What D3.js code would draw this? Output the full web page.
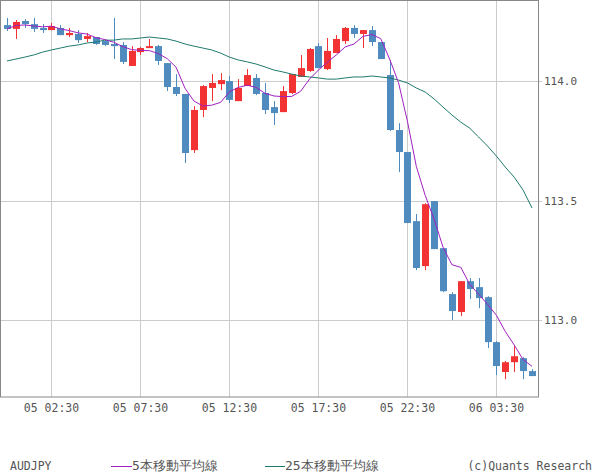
<!DOCTYPE html>
<html><head><meta charset="utf-8">
<script src="https://cdn.jsdelivr.net/npm/d3@7"></script>
<style>body{margin:0;background:#fff}svg{display:block}</style>
</head><body><svg id="chart" width="600" height="475"></svg>
<script>
const opens = [114.234,114.218,114.251,114.238,114.222,114.213,114.222,114.192,114.197,114.176,114.184,114.167,114.155,114.151,114.063,114.121,114.138,114.146,114.075,113.975,113.946,113.711,113.879,113.971,113.987,114.000,113.916,113.979,114.013,113.950,113.891,113.870,113.950,114.017,114.042,114.146,114.050,114.117,114.167,114.222,114.197,114.213,114.163,114.025,113.795,113.703,113.414,113.226,113.498,113.301,113.109,113.034,113.163,113.138,113.096,112.908,112.783,112.824,112.841,112.787];
const highs = [114.264,114.255,114.259,114.264,114.238,114.243,114.234,114.222,114.213,114.201,114.184,114.171,114.264,114.163,114.146,114.142,114.176,114.151,114.075,114.029,113.946,113.895,113.983,114.029,114.033,114.021,114.008,114.050,114.029,113.992,113.916,113.979,114.029,114.109,114.138,114.159,114.180,114.192,114.226,114.234,114.213,114.230,114.163,114.088,113.824,113.703,113.444,113.489,113.498,113.301,113.117,113.163,113.176,113.176,113.100,112.912,112.829,112.891,112.845,112.795];
const lows = [114.209,114.176,114.222,114.205,114.201,114.213,114.192,114.184,114.159,114.163,114.151,114.146,114.092,114.071,114.063,114.109,114.138,114.067,113.958,113.937,113.657,113.699,113.849,113.916,113.962,113.908,113.916,113.979,113.941,113.862,113.816,113.870,113.946,114.017,114.038,114.054,114.046,114.117,114.155,114.180,114.138,114.146,114.092,113.791,113.619,113.406,113.209,113.209,113.297,113.117,113.000,113.017,113.088,113.050,112.883,112.770,112.753,112.783,112.753,112.766];
const closes = [114.218,114.247,114.238,114.218,114.213,114.230,114.192,114.201,114.171,114.188,114.155,114.151,114.146,114.080,114.126,114.138,114.146,114.084,113.975,113.946,113.699,113.879,113.979,113.992,114.004,113.921,113.971,114.025,113.946,113.879,113.866,113.958,114.029,114.054,114.134,114.054,114.126,114.176,114.222,114.197,114.213,114.163,114.092,113.795,113.703,113.406,113.218,113.485,113.297,113.121,113.038,113.163,113.130,113.092,112.908,112.808,112.824,112.849,112.787,112.766];
const ma25 = [114.084,114.092,114.100,114.109,114.121,114.130,114.138,114.146,114.151,114.159,114.163,114.171,114.171,114.176,114.176,114.180,114.184,114.180,114.176,114.167,114.155,114.146,114.138,114.130,114.117,114.100,114.088,114.080,114.071,114.059,114.046,114.038,114.029,114.021,114.017,114.013,114.008,114.008,114.013,114.017,114.017,114.021,114.017,114.013,114.004,113.992,113.971,113.954,113.925,113.891,113.858,113.828,113.803,113.766,113.728,113.686,113.640,113.598,113.544,113.469];
const tickIdx = [5,15,25,35,45,55];
const tickLabels = ["05 02:30","05 07:30","05 12:30","05 17:30","05 22:30","06 03:30"];
const priceTicks = [113.0,113.5,114.0];

// 5-bar moving average from closes (shorter window at the start)
const ma5 = closes.map((c, i) => d3.mean(closes.slice(Math.max(0, i - 4), i + 1)));

const svg = d3.select("#chart");
const W = 538, H = 397;
const font = "'DejaVu Sans Mono', monospace";
const x = d3.scaleLinear().domain([0, 59]).range([7, 532]);
const y = d3.scaleLinear().domain([112.6785, 114.3389]).range([H, 0]);

// grid
svg.append("g").selectAll("line").data(tickIdx).join("line")
  .attr("x1", d => Math.round(x(d)) + 0.5).attr("x2", d => Math.round(x(d)) + 0.5)
  .attr("y1", 0).attr("y2", H).attr("stroke", "#ccc");
svg.append("g").selectAll("line").data(priceTicks).join("line")
  .attr("x1", 0).attr("x2", W + 4).attr("y1", d => Math.round(y(d)) + 0.5).attr("y2", d => Math.round(y(d)) + 0.5)
  .attr("stroke", "#ccc");

// candles
const idx = d3.range(closes.length);
const g = svg.append("g");
g.selectAll("line").data(idx).join("line")
  .attr("x1", i => Math.round(x(i)) + 0.5).attr("x2", i => Math.round(x(i)) + 0.5)
  .attr("y1", i => y(highs[i])).attr("y2", i => y(lows[i]))
  .attr("stroke", i => closes[i] >= opens[i] ? "#f33333" : "#4f8bbf");
g.selectAll("rect").data(idx).join("rect")
  .attr("x", i => Math.round(x(i)) - 3).attr("width", 7)
  .attr("y", i => y(Math.max(opens[i], closes[i])))
  .attr("height", i => Math.max(2, Math.abs(y(opens[i]) - y(closes[i]))))
  .attr("fill", i => closes[i] >= opens[i] ? "#f33333" : "#4f8bbf");

const line = d3.line().x((d, i) => x(i)).y(d => y(d));
svg.append("path").datum(ma25).attr("d", line).attr("fill", "none").attr("stroke", "#1f7a6e").attr("stroke-width", 1);
svg.append("path").datum(ma5).attr("d", line).attr("fill", "none").attr("stroke", "#a020c0").attr("stroke-width", 1);

// frame
svg.append("rect").attr("x", 0.5).attr("y", 0.5).attr("width", W).attr("height", H - 0.5)
  .attr("fill", "none").attr("stroke", "#888");

// axis labels
svg.append("g").selectAll("text").data(priceTicks).join("text")
  .attr("x", 544).attr("y", d => y(d) + 4).text(d => d.toFixed(1))
  .attr("font-family", font).attr("font-size", 11).attr("fill", "#555");
svg.append("g").selectAll("text").data(tickIdx).join("text")
  .attr("x", d => x(d)).attr("y", 412).attr("text-anchor", "middle").text((d, i) => tickLabels[i])
  .attr("font-family", font).attr("font-size", 11.5).attr("fill", "#555");

// footer
function txt(xp, s, anchor, size) {
  svg.append("text").attr("x", xp).attr("y", 470).text(s).attr("text-anchor", anchor || "start")
    .attr("font-family", font).attr("font-size", size || 11.5).attr("fill", "#555");
}
txt(10, "AUDJPY");
svg.append("line").attr("x1", 111).attr("x2", 132).attr("y1", 466.5).attr("y2", 466.5).attr("stroke", "#a020c0");
txt(132, "5本移動平均線", "start", 13);
svg.append("line").attr("x1", 265).attr("x2", 285).attr("y1", 466.5).attr("y2", 466.5).attr("stroke", "#1f7a6e");
txt(285, "25本移動平均線", "start", 13);
txt(592, "(c)Quants Research", "end");
</script></body></html>
